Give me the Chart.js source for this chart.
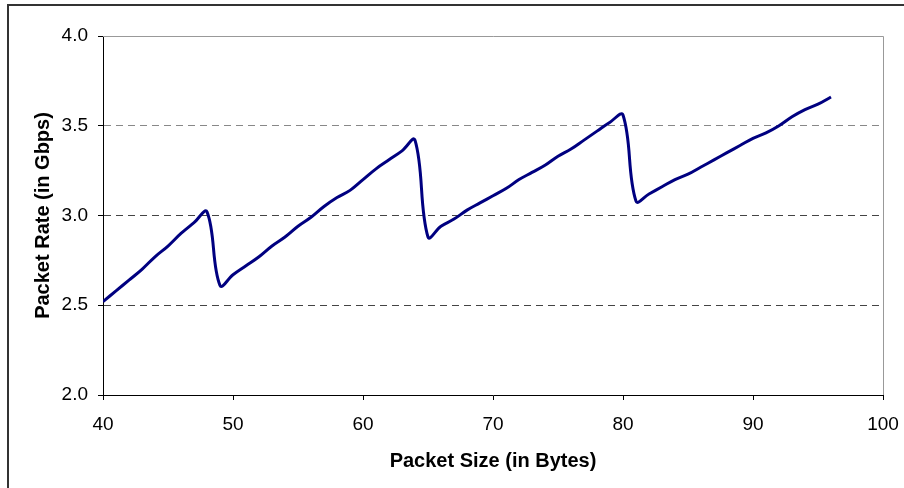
<!DOCTYPE html>
<html>
<head>
<meta charset="utf-8">
<script src="https://cdn.jsdelivr.net/npm/chart.js@4"></script>
<style>
  html, body { margin: 0; padding: 0; background: #fff; }
  #wrap { width: 904px; height: 488px; }
</style>
</head>
<body>
<div id="wrap"><canvas id="myChart" width="904" height="488"></canvas></div>
<script>
// packet size (bytes) and measured packet rate (Gbps)
const packetSizes = [40, 41, 42, 43, 44, 45, 46, 47, 48, 49,
  50, 51, 52, 53, 54, 55, 56, 57, 58, 59,
  60, 61, 62, 63, 64, 65, 66, 67, 68, 69,
  70, 71, 72, 73, 74, 75, 76, 77, 78, 79,
  80, 81, 82, 83, 84, 85, 86, 87, 88, 89,
  90, 91, 92, 93, 94, 95, 96];
const packetRates = [2.52, 2.58, 2.64, 2.70, 2.77, 2.83, 2.90, 2.96, 3.02, 2.61,
  2.67, 2.72, 2.77, 2.83, 2.88, 2.94, 2.99, 3.05, 3.10, 3.14,
  3.20, 3.26, 3.31, 3.36, 3.42, 2.88, 2.94, 2.98, 3.03, 3.07,
  3.11, 3.15, 3.20, 3.24, 3.28, 3.33, 3.37, 3.42, 3.47, 3.52,
  3.56, 3.08, 3.12, 3.16, 3.20, 3.23, 3.27, 3.31, 3.35, 3.39,
  3.43, 3.46, 3.50, 3.55, 3.59, 3.62, 3.66];

const xMin = 40, xMax = 100, xStep = 10;
const yMin = 2.0, yMax = 4.0, yStep = 0.5;

const xTitle = 'Packet Size (in Bytes)';
const yTitle = 'Packet Rate (in Gbps)';

// frame around the figure and the grey plot-area border on top/right
const framePlugin = {
  id: 'frame',
  beforeDraw(chart) {
    const ctx = chart.ctx;
    ctx.save();
    ctx.fillStyle = '#fff';
    ctx.fillRect(0, 0, chart.width, chart.height);
    ctx.strokeStyle = '#333';
    ctx.lineWidth = 2;
    ctx.strokeRect(8, 5, 1000, 1000);
    ctx.restore();
  },
  afterDraw(chart) {
    const a = chart.chartArea;
    const ctx = chart.ctx;
    ctx.save();
    ctx.strokeStyle = '#999';
    ctx.lineWidth = 1;
    ctx.beginPath();
    ctx.moveTo(a.left, a.top + 0.5);
    ctx.lineTo(a.right + 0.5, a.top + 0.5);
    ctx.lineTo(a.right + 0.5, a.bottom);
    ctx.stroke();
    ctx.restore();
  }
};

const ctx = document.getElementById('myChart').getContext('2d');
const myChart = new Chart(ctx, {
  type: 'line',
  data: {
    datasets: [{
      data: packetSizes.map((s, i) => ({ x: s, y: packetRates[i] })),
      borderColor: '#000080',
      borderWidth: 3,
      pointRadius: 0,
      fill: false,
      tension: 0.4
    }]
  },
  options: {
    responsive: false,
    animation: false,
    layout: { padding: { top: 36, right: 21, left: 0, bottom: 0 } },
    plugins: { legend: { display: false }, tooltip: { enabled: false } },
    scales: {
      x: {
        type: 'linear',
        min: xMin,
        max: xMax,
        afterFit(scale) {
          scale.height = 93;
          scale.paddingLeft = 0;
          scale.paddingRight = 0;
        },
        ticks: {
          stepSize: xStep,
          color: '#000',
          padding: 13,
          maxRotation: 0,
          font: { family: 'Liberation Sans, Arial', size: 19 }
        },
        grid: { drawOnChartArea: false, drawTicks: true, tickLength: 5, tickColor: '#000' },
        border: { color: '#000', width: 1 },
        title: {
          display: true,
          text: xTitle,
          color: '#000',
          padding: { top: 0, bottom: 15 },
          font: { family: 'Liberation Sans, Arial', size: 20, weight: 'bold' }
        }
      },
      y: {
        min: yMin,
        max: yMax,
        afterFit(scale) {
          scale.width = 103;
          scale.paddingTop = 0;
          scale.paddingBottom = 0;
        },
        ticks: {
          stepSize: yStep,
          color: '#000',
          padding: 10,
          callback: v => Number(v).toFixed(1),
          font: { family: 'Liberation Sans, Arial', size: 19 }
        },
        grid: {
          drawTicks: true,
          tickLength: 5,
          tickColor: '#000',
          color: c => {
            const v = c.tick ? c.tick.value : null;
            if (v === yMin || v === yMax) return 'rgba(0,0,0,0)';
            return v === 3.5 ? '#888' : '#444';
          }
        },
        border: { color: '#000', width: 1, dash: [7, 5] },
        title: {
          display: true,
          text: yTitle,
          color: '#000',
          padding: { top: 31, bottom: 0 },
          font: { family: 'Liberation Sans, Arial', size: 20, weight: 'bold' }
        }
      }
    }
  },
  plugins: [framePlugin]
});
</script>
</body>
</html>
